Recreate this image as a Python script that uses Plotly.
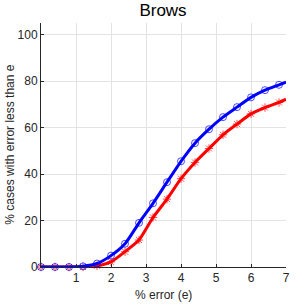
import plotly.graph_objects as go

x_vals = [0, 0.4, 0.8, 1.2, 1.6, 2.0, 2.4, 2.8, 3.2, 3.6, 4.0, 4.4, 4.8, 5.2, 5.6, 6.0, 6.4, 6.8, 7.0]
blue_vals = [0, 0, 0, 0.3, 1.5, 4.9, 10.0, 19.0, 27.4, 36.5, 45.5, 53.3, 59.3, 64.5, 68.8, 73.0, 76.1, 78.4, 79.6]
red_vals = [0, 0, 0, 0, 0.5, 2.2, 6.6, 11.6, 21.3, 29.2, 38.0, 45.0, 51.0, 56.9, 61.5, 65.9, 68.6, 70.8, 72.2]
x_ticks = [1, 2, 3, 4, 5, 6, 7]
y_ticks = [0, 20, 40, 60, 80, 100]

FONT = "Liberation Sans, Arial, sans-serif"
msize = [7] * (len(x_vals) - 1) + [0]

fig = go.Figure()
fig.add_trace(go.Scatter(
    x=x_vals, y=red_vals, mode="lines+markers",
    line=dict(color="#ff0000", width=3, shape="spline", smoothing=0.6),
    marker=dict(symbol="asterisk-open", size=msize, color="#ff0000", line=dict(color="#ff0000", width=1)),
    showlegend=False, cliponaxis=False))
fig.add_trace(go.Scatter(
    x=x_vals, y=blue_vals, mode="lines+markers",
    line=dict(color="#0000ff", width=3, shape="spline", smoothing=0.6),
    marker=dict(symbol="circle-open", size=msize, color="#0000ff", line=dict(color="#0000ff", width=1)),
    showlegend=False, cliponaxis=False))

axis_common = dict(
    showgrid=True, gridcolor="#e3e3e3", gridwidth=1,
    showline=True, linecolor="#262626", linewidth=1,
    ticks="inside", ticklen=3, tickcolor="#262626",
    tickfont=dict(family=FONT, size=12, color="#262626"),
    zeroline=False, automargin=False,
)

fig.update_layout(
    width=305, height=305,
    margin=dict(l=41, r=19, t=23, b=38),
    paper_bgcolor="white", plot_bgcolor="white",
    title=dict(text="Brows", x=163 / 305, xanchor="center", y=1 - 10 / 305, yanchor="middle",
               font=dict(family=FONT, size=17, color="black")),
    xaxis=dict(range=[0, 7], tickvals=x_ticks, **axis_common),
    yaxis=dict(range=[0, 105], tickvals=y_ticks, **axis_common),
    annotations=[
        dict(text="% error (e)", xref="paper", yref="paper", x=0.5, y=-0.115,
             xanchor="center", yanchor="middle", showarrow=False,
             font=dict(family=FONT, size=12, color="#262626")),
        dict(text="% cases with error less than e", xref="paper", yref="paper", x=-0.128, y=0.5,
             xanchor="center", yanchor="middle", showarrow=False, textangle=-90,
             font=dict(family=FONT, size=12, color="#262626")),
    ],
)

fig.write_html("out.html", config={"displayModeBar": False},
               post_script="document.body.style.margin='0';document.body.style.padding='0';document.body.style.overflow='hidden';")
